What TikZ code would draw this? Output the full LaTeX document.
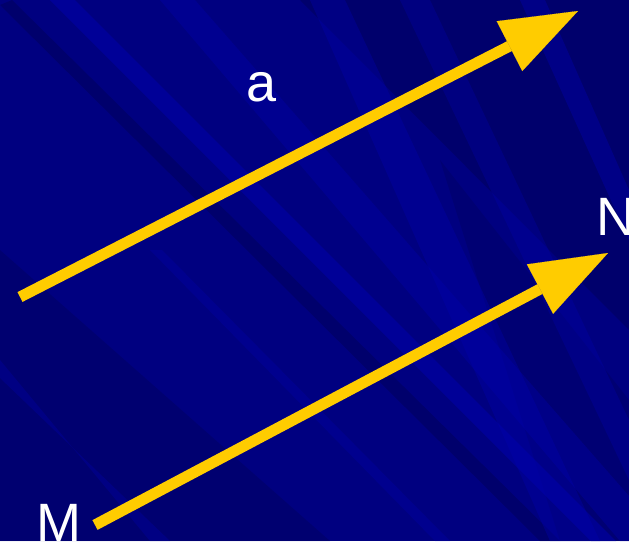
\documentclass[tikz,border=0pt]{standalone}
\usepackage{fontspec}
\setmainfont{Liberation Sans}
\usetikzlibrary{arrows.meta}
\definecolor{bgnavy}{RGB}{0,0,128}
\definecolor{litestreak}{RGB}{0,0,175}
\definecolor{darkstreak}{RGB}{0,0,85}
\definecolor{arrowyellow}{RGB}{255,204,0}
\tikzset{
  lite/.style={fill=litestreak, fill opacity=#1},
  dark/.style={fill=darkstreak, fill opacity=#1},
  vec/.style={draw=arrowyellow, line width=11pt, line cap=butt,
    -{Triangle[length=77pt,width=56pt,line width=0.1pt]}},
  lbl/.style={text=white, inner sep=0pt, font=\fontsize{54}{60}\selectfont}
}
\begin{document}
\begin{tikzpicture}[x=1pt,y=-1pt]
\useasboundingbox (0,0) rectangle (629,541);
\clip (0,0) rectangle (629,541);
\fill[bgnavy] (0,0) rectangle (629,541);
% streaks
\fill[dark=0.45] (300,0) -- (629,0) -- (629,330) -- cycle;
\fill[dark=0.3] (440,160) -- (629,400) -- (629,541) -- (560,541) -- cycle;
\fill[dark=0.35] (0,250) -- (330,541) -- (0,541) -- cycle;
\fill[dark=0.45] (0,5) -- (12,0) -- (560,541) -- (540,541) -- cycle;
\fill[lite=0.5] (50,0) -- (75,0) -- (616,541) -- (591,541) -- cycle;
\fill[lite=0.35] (160,0) -- (195,0) -- (629,496) -- (629,541) -- (620,541) -- cycle;
\fill[lite=0.35] (310,0) -- (345,0) -- (600,541) -- (550,541) -- cycle;
\fill[lite=0.3] (400,0) -- (430,0) -- (629,420) -- (629,480) -- cycle;
\fill[lite=0.4] (520,0) -- (545,0) -- (629,190) -- (629,240) -- cycle;
\fill[lite=0.3] (0,360) -- (0,378) -- (170,541) -- (150,541) -- cycle;
\fill[lite=0.3] (150,250) -- (162,250) -- (450,541) -- (435,541) -- cycle;
% vectors
\coordinate (aS) at (20,297);
\coordinate (aE) at (578,11);
\coordinate (M) at (95,525);
\coordinate (N) at (608,253);
\draw[vec] (aS) -- (aE);
\draw[vec] (M) -- (N);
% labels
\node[lbl, anchor=base] (la) at (262,101) {a};
\node[lbl, anchor=base west] (lN) at (596,235) {N};
\node[lbl, anchor=base west] (lM) at (36,541) {M};
\end{tikzpicture}
\end{document}
